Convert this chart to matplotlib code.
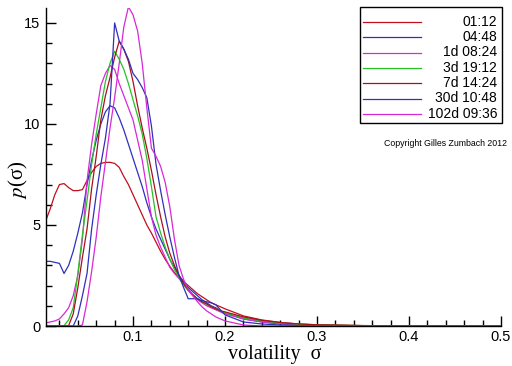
import matplotlib
matplotlib.use("Agg")
import matplotlib.pyplot as plt
from matplotlib.ticker import MultipleLocator, FixedLocator
from matplotlib.lines import Line2D
from matplotlib.patches import Rectangle

sigma = [0.005, 0.010, 0.015, 0.020, 0.025, 0.030, 0.035, 0.040, 0.045, 0.050,
         0.055, 0.060, 0.065, 0.070, 0.075, 0.080, 0.085, 0.090, 0.095, 0.100,
         0.105, 0.110, 0.115, 0.120, 0.125, 0.130, 0.135, 0.140, 0.145, 0.150,
         0.155, 0.160, 0.165, 0.170, 0.175, 0.180, 0.185, 0.190, 0.195, 0.200,
         0.22, 0.24, 0.26, 0.28, 0.30, 0.35, 0.40, 0.45, 0.50]

p_0112 = [5.2, 5.8, 6.5, 7.0, 7.05, 6.85, 6.7, 6.7, 6.75, 7.2,
          7.6, 7.9, 8.05, 8.1, 8.1, 8.05, 7.85, 7.4, 7.0, 6.5,
          6.0, 5.5, 5.0, 4.6, 4.15, 3.7, 3.3, 2.95, 2.65, 2.4,
          2.2, 2.0, 1.8, 1.6, 1.45, 1.3, 1.15, 1.05, 0.95, 0.85,
          0.5, 0.3, 0.18, 0.1, 0.06, 0.02, 0.01, 0.0, 0.0]
p_0448 = [3.2, 3.2, 3.15, 3.1, 2.6, 3.0, 3.7, 4.6, 5.6, 7.0,
          8.2, 9.2, 10.0, 10.6, 10.9, 10.8, 10.3, 9.7, 9.0, 8.3,
          7.6, 6.9, 6.1, 5.4, 4.8, 4.3, 3.8, 3.3, 2.9, 2.5,
          2.2, 1.9, 1.7, 1.5, 1.3, 1.15, 1.0, 0.9, 0.75, 0.65,
          0.35, 0.2, 0.1, 0.06, 0.03, 0.01, 0.0, 0.0, 0.0]
p_1d = [0.15, 0.2, 0.25, 0.35, 0.6, 0.9, 1.5, 2.5, 4.3, 7.2,
        9.0, 10.5, 11.9, 12.5, 12.9, 12.7, 12.0, 11.4, 10.8, 10.2,
        9.2, 8.2, 6.8, 5.4, 4.5, 3.9, 3.4, 2.9, 2.6, 2.35,
        2.05, 1.75, 1.5, 1.3, 1.15, 1.0, 0.9, 0.8, 0.7, 0.6,
        0.35, 0.2, 0.12, 0.07, 0.04, 0.01, 0.0, 0.0, 0.0]
p_3d = [0.0, 0.0, 0.0, 0.0, 0.02, 0.3, 0.9, 2.6, 4.5, 6.2,
        8.0, 9.5, 10.8, 12.1, 13.0, 13.6, 13.2, 12.7, 12.0, 11.2,
        10.4, 9.5, 8.3, 6.9, 5.4, 4.6, 3.9, 3.3, 2.8, 2.4,
        2.05, 1.75, 1.55, 1.35, 1.2, 1.05, 0.95, 0.85, 0.75, 0.65,
        0.4, 0.25, 0.15, 0.09, 0.05, 0.02, 0.0, 0.0, 0.0]
p_7d = [0.0, 0.0, 0.0, 0.0, 0.0, 0.02, 0.6, 1.9, 3.4, 4.8,
        6.8, 8.4, 10.2, 11.4, 12.3, 13.3, 14.1, 13.7, 13.1, 12.1,
        10.9, 9.8, 8.8, 7.7, 6.5, 5.4, 4.4, 3.6, 3.0, 2.5,
        2.1, 1.8, 1.55, 1.35, 1.2, 1.1, 0.95, 0.85, 0.75, 0.7,
        0.45, 0.28, 0.17, 0.1, 0.06, 0.02, 0.01, 0.0, 0.0]
p_30d = [0.0, 0.0, 0.0, 0.0, 0.0, 0.0, 0.0, 0.5, 1.5, 2.6,
         4.8, 6.5, 8.0, 9.3, 11.0, 15.0, 14.1, 13.7, 13.2, 12.5,
         12.2, 11.8, 11.3, 9.9, 8.0, 6.7, 5.5, 4.4, 3.4, 2.5,
         1.9, 1.35, 1.35, 1.35, 1.25, 1.2, 1.15, 1.05, 0.8, 0.55,
         0.2, 0.1, 0.05, 0.02, 0.01, 0.0, 0.0, 0.0, 0.0]
p_102d = [0.0, 0.0, 0.0, 0.0, 0.0, 0.0, 0.0, 0.0, 0.05, 1.2,
          2.7, 4.4, 6.4, 8.1, 9.8, 11.3, 13.0, 14.8, 15.8, 15.4,
          14.6, 13.0, 10.8, 8.8, 8.4, 7.9, 7.1, 5.9, 4.3, 3.0,
          2.3, 1.8, 1.5, 1.2, 0.95, 0.75, 0.6, 0.45, 0.35, 0.25,
          0.05, 0.0, 0.0, 0.0, 0.0, 0.0, 0.0, 0.0, 0.0]

labels = ["01:12", "04:48", "1d 08:24", "3d 19:12", "7d 14:24", "30d 10:48", "102d 09:36"]
series = [p_0112, p_0448, p_1d, p_3d, p_7d, p_30d, p_102d]
colors = ["#c0101c", "#3030c0", "#d828d8", "#28c028", "#a8101c", "#3030b8", "#d828d8"]

plt.rcParams["mathtext.fontset"] = "stix"
fig = plt.figure(figsize=(5.12, 3.66), dpi=100)
ax = fig.add_axes([46 / 512, 1 - 326 / 366, 455 / 512, 318 / 366])

for y, c in zip(series, colors):
    ax.plot(sigma, y, color=c, lw=0.9)

ax.set_xlim(0.0054, 0.5)
ax.set_ylim(0, 15.74)
for s in ("top", "right"):
    ax.spines[s].set_visible(False)
for s in ("left", "bottom"):
    ax.spines[s].set_linewidth(1.0)

ax.xaxis.set_major_locator(FixedLocator([0.1, 0.2, 0.3, 0.4, 0.5]))
ax.xaxis.set_minor_locator(MultipleLocator(0.02))
ax.yaxis.set_major_locator(FixedLocator([0, 5, 10, 15]))
ax.yaxis.set_minor_locator(MultipleLocator(1))
ax.tick_params(which="both", direction="in", width=1, colors="black")
ax.tick_params(which="major", length=7, labelsize=10.5)
ax.tick_params(axis="x", which="major", pad=3)
ax.tick_params(axis="y", which="major", pad=4)
ax.tick_params(which="minor", length=4)
ax.set_xticklabels(["0.1", "0.2", "0.3", "0.4", "0.5"])
ax.set_yticklabels(["0", "5", "10", "15"])
for t in ax.get_xticklabels() + ax.get_yticklabels():
    t.set_family("Liberation Sans")

W, H = 512.0, 366.0
fig.text(275 / W, 1 - 359 / H, "volatility  σ", ha="center", va="baseline",
         family="Liberation Serif", fontsize=14.5)
fig.text(18 / W, 1 - 180 / H, r"$p$(σ)", ha="center", va="center",
         rotation=90, family="Liberation Serif", fontsize=15)

# legend box
fig.patches.append(Rectangle((360 / W, 1 - 123 / H), 142 / W, 116 / H,
                             transform=fig.transFigure, fill=False,
                             edgecolor="black", lw=1.0))
row_y = [21.5, 37, 52.5, 67.5, 83, 98.5, 114]
for ry, lab, c in zip(row_y, labels, colors):
    fig.lines.append(Line2D([363 / W, 421 / W], [1 - ry / H, 1 - ry / H],
                            transform=fig.transFigure, color=c, lw=0.9))
    fig.text(497 / W, 1 - ry / H, lab, ha="right", va="center",
             family="Liberation Sans", fontsize=10)

fig.text(507 / W, 1 - 143 / H, "Copyright Gilles Zumbach 2012", ha="right",
         va="center", family="Liberation Sans", fontsize=6.3)

fig.savefig("out.png", dpi=100)
